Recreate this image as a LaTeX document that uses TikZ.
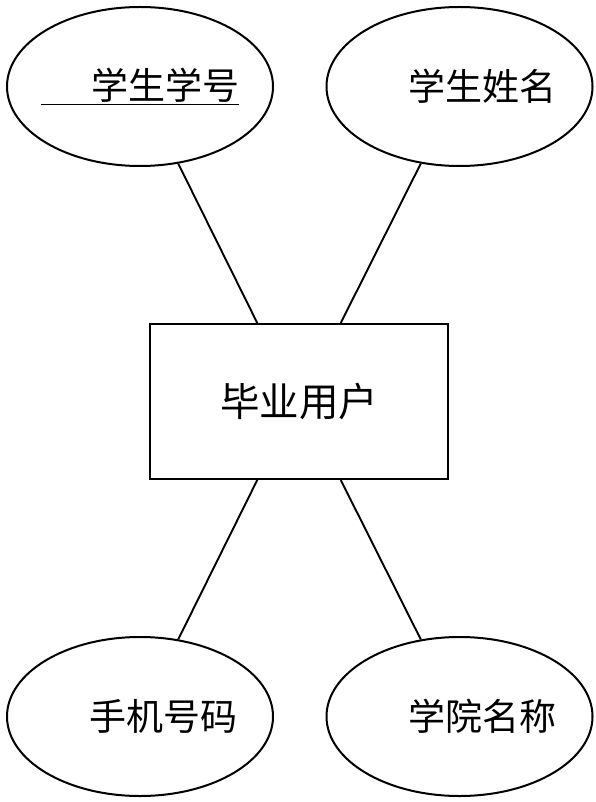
\documentclass[tikz,border=0pt]{standalone}
\usepackage{fontspec}
\newfontfamily\cjk{Noto Sans CJK SC}
\usetikzlibrary{shapes.geometric}
\begin{document}
\begin{tikzpicture}[x=1pt, y=-1pt,
		lab/.style={inner sep=0pt, font=\cjk\fontsize{37}{42}\selectfont},
		attr/.style={draw, ellipse, line width=2pt, minimum width=266pt, minimum height=159pt, inner sep=0pt, label={[lab]center:#1}},
		ent/.style={draw, rectangle, line width=2pt, minimum width=298pt, minimum height=155pt, inner sep=0pt, font=\cjk\fontsize{39.5}{44}\selectfont},
		link/.style={line width=1.9pt}]
	
	\useasboundingbox (0,0) rectangle (596,802);
	
	\node[ent] (user) at (299,401.5) {毕业用户};
	
	\node[attr={\underline{\hspace*{50pt}学生学号}}] (sno) at (140,86.5) {};
	\node[attr={\hspace*{46pt}学生姓名}] (sname) at (459.5,86.5) {};
	\node[attr={\hspace*{46pt}手机号码}] (phone) at (140,716.5) {};
	\node[attr={\hspace*{46pt}学院名称}] (school) at (459.5,716.5) {};
	
	\draw[link] (sno) -- (user.118);
	\draw[link] (sname) -- (user.62);
	\draw[link] (phone) -- (user.-118);
	\draw[link] (school) -- (user.-62);
	
\end{tikzpicture}
\end{document}
